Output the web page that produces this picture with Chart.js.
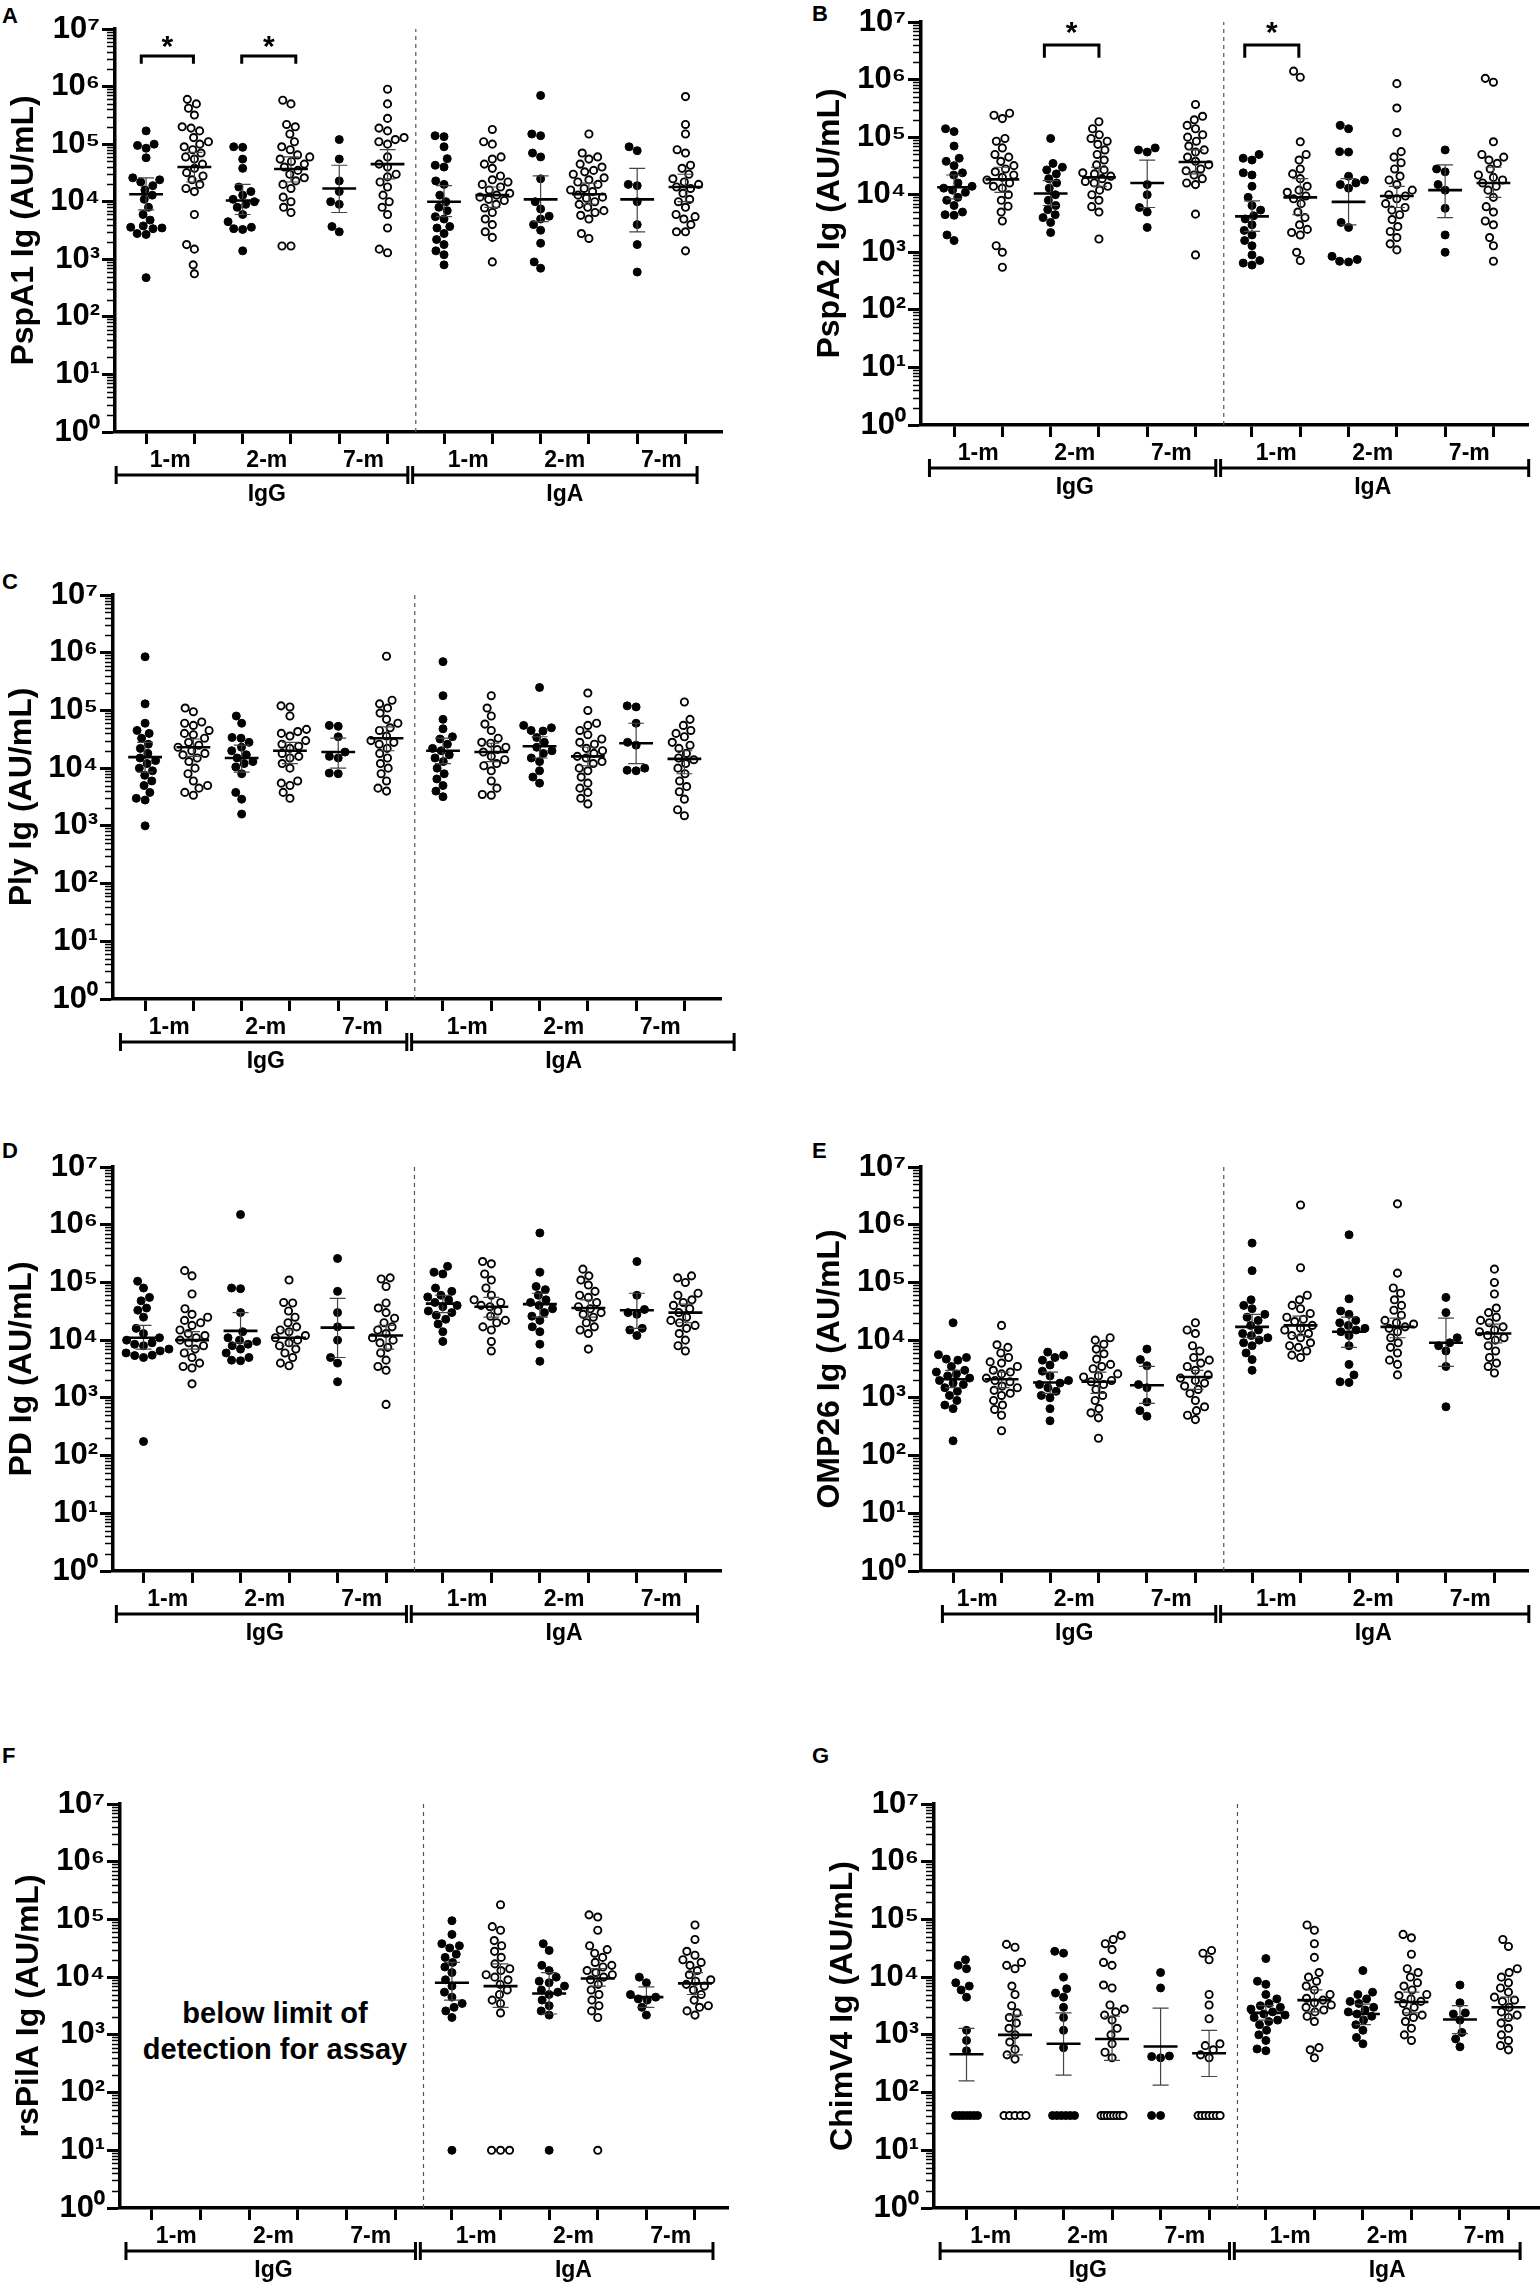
<!DOCTYPE html>
<html>
<head>
<meta charset="utf-8">
<script src="https://cdn.jsdelivr.net/npm/chart.js@4.4.1/dist/chart.umd.min.js"></script>
<style>
  html, body { margin: 0; padding: 0; background: #fff; }
  body { width: 1540px; height: 2284px; position: relative; overflow: hidden;
         font-family: "Liberation Sans", Arial, sans-serif; color: #000; }
  canvas { position: absolute; }
  .letter { position: absolute; font-weight: bold; font-size: 22px; line-height: 22px; }
  .note { position: absolute; width: 320px; text-align: center; font-weight: bold;
          font-size: 29px; line-height: 36px; }
</style>
</head>
<body>
<script>
// ---- data (AU/mL) ----
const months = ['1-m', '2-m', '7-m'];
const isotypes = ['IgG', 'IgA'];
const exponents = [0, 1, 2, 3, 4, 5, 6, 7];

// group order: IgG 1-m (filled), 1-m (open), 2-m, 2-m, 7-m, 7-m, then the same for IgA
const pspA1Values = [
  [1.7e5,1.0e5,9.5e4,8.5e4,5.8e4,2.6e4,2.4e4,2.2e4,1.9e4,1.6e4,1.3e4,1.1e4,8e3,6e3,4.8e3,3.8e3,3.6e3,3.5e3,3.4e3,2.8e3,2.7e3,4.8e2],
  [6e5,5e5,4.2e5,3.2e5,2e5,1.9e5,1.7e5,1.3e5,1.1e5,1e5,9e4,8e4,7e4,6e4,5.5e4,4.5e4,3.8e4,3.2e4,2.8e4,2.4e4,2e4,1.7e4,1.5e4,6e3,1.8e3,1.5e3,8e2,5.6e2],
  [9e4,8.8e4,5.5e4,3.8e4,1.8e4,1.5e4,1.3e4,1.1e4,1e4,9e3,8e3,6e3,4.5e3,3.6e3,3.4e3,3.3e3,1.4e3],
  [5.8e5,5e5,2.2e5,2e5,1.5e5,1.1e5,9e4,8e4,6.5e4,6e4,5.5e4,5e4,4.5e4,4e4,3.5e4,3e4,2.6e4,2.3e4,2e4,1.7e4,1.2e4,1e4,8e3,6.5e3,1.7e3,1.7e3],
  [1.2e5,5.5e4,2.3e4,1.5e4,1e4,9e3,3.7e3,3e3],
  [9e5,5e5,2.8e5,1.9e5,1.7e5,1.3e5,1.2e5,1.1e5,1e5,6e4,4.5e4,4e4,3e4,2.7e4,2.2e4,1.8e4,1.3e4,1e4,8e3,6e3,3.5e3,1.5e3,1.3e3],
  [1.4e5,1.35e5,9e4,5.6e4,4.3e4,4e4,2.3e4,2e4,1.3e4,1e4,8e3,7e3,5.5e3,5e3,3.7e3,3.5e3,2.8e3,2.2e3,1.8e3,1.4e3,1.2e3,8e2],
  [1.8e5,1.1e5,1e5,6e4,5.5e4,4.5e4,3.8e4,2.8e4,2.4e4,2.2e4,2e4,1.8e4,1.6e4,1.4e4,1.3e4,1.2e4,1.1e4,1.05e4,9e3,7.8e3,6.5e3,5e3,4e3,3e3,2.4e3,9e2],
  [7e5,1.5e5,1.4e5,7e4,6e4,2.5e4,1e4,7.5e3,5.6e3,5e3,4e3,3.2e3,1.9e3,9e2,7e2],
  [1.5e5,7e4,6e4,5.5e4,4.5e4,4e4,3.5e4,3.3e4,3e4,2.6e4,2.4e4,2.2e4,2e4,1.7e4,1.6e4,1.5e4,1.3e4,1.2e4,1.15e4,1e4,9e3,8e3,7e3,6.5e3,5.8e3,5e3,2.8e3,2.3e3],
  [9e4,7.7e4,2e4,1.9e4,1e4,4e3,1.8e3,6e2],
  [6.7e5,2.2e5,1.5e5,8e4,7e4,4.3e4,3.8e4,3e4,2.5e4,2.2e4,2e4,1.8e4,1.7e4,1.4e4,1.1e4,1e4,8e3,6e3,5.5e3,5e3,4e3,3e3,3e3,1.4e3]
];
const pspA1Mean = [1.35e4,4e4,1.05e4,3.7e4,1.7e4,4.5e4,1e4,1.3e4,1.1e4,1.35e4,1.1e4,1.8e4];
const pspA1Low  = [7.2e3,2.2e4,6e3,2.2e4,6.5e3,2.5e4,5.5e3,8e3,4.5e3,9e3,3e3,1e4];
const pspA1High = [2.6e4,7.2e4,2e4,6e4,4.3e4,8e4,1.9e4,1.8e4,2.8e4,2.1e4,3.8e4,3e4];

const pspA2Values = [
  [1.4e5,1.25e5,7e4,4.3e4,3.8e4,3.2e4,2.4e4,2.2e4,1.6e4,1.4e4,1.3e4,1.2e4,1.1e4,9e3,8e3,6.5e3,5e3,4.5e3,4.4e3,2e3,1.6e3],
  [2.6e5,2.4e5,2.1e5,9.5e4,8.5e4,6.5e4,5e4,4.5e4,3.8e4,3.2e4,2.8e4,2.5e4,2.2e4,2e4,1.8e4,1.6e4,1.4e4,1.3e4,1e4,8e3,6.3e3,5e3,3.5e3,1.3e3,1e3,5.5e2],
  [9.5e4,3.5e4,3e4,2.7e4,2.3e4,1.9e4,1.6e4,1.3e4,1e4,8e3,6.5e3,5.5e3,4.5e3,4e3,3.3e3,2.2e3],
  [1.85e5,1.4e5,1.1e5,9.5e4,8.5e4,7.5e4,6e4,5e4,4e4,3.3e4,2.7e4,2.4e4,2.3e4,2.1e4,1.9e4,1.7e4,1.6e4,1.4e4,1.2e4,1e4,8e3,6.2e3,5e3,1.7e3],
  [6.5e4,6e4,5.5e4,1.5e4,1e4,6e3,5e3,2.7e3],
  [3.7e5,2.3e5,2e5,1.6e5,1.4e5,1.1e5,1e5,8.5e4,7e4,6e4,5.5e4,4.5e4,3.8e4,3.3e4,2.8e4,2.6e4,2.2e4,1.9e4,1.6e4,1.5e4,4.6e3,9e2],
  [5e4,4.3e4,4e4,2.4e4,2.2e4,1.4e4,9e3,6.5e3,5.4e3,4.3e3,3.8e3,3e3,2.4e3,2e3,1.6e3,1.3e3,9e2,7.2e2,6.5e2,6e2],
  [1.4e6,1.1e6,8.3e4,5e4,4e4,2.8e4,2.3e4,1.9e4,1.4e4,1.2e4,1.1e4,9.5e3,8.5e3,7e3,5e3,4e3,3e3,2.5e3,2.2e3,2e3,1e3,7.2e2],
  [1.6e5,1.4e5,5.6e4,5.5e4,2.1e4,1.8e4,1.6e4,1.5e4,1.3e4,3.3e3,2.7e3,8.5e2,7.5e2,7e2,6.8e2],
  [8.5e5,3.2e5,1.2e5,5.6e4,4.5e4,3.6e4,2.8e4,2.1e4,1.8e4,1.5e4,1.2e4,1e4,9.5e3,8.5e3,7e3,6e3,5.4e3,4.5e3,3.7e3,2.8e3,2.3e3,1.8e3,1.4e3,1.1e3],
  [6e4,2.8e4,2.5e4,1.5e4,1.2e4,5.8e3,2e3,1e3],
  [1.05e6,9e5,8.3e4,5e4,4.5e4,4e4,3.5e4,2.8e4,2.2e4,2e4,1.8e4,1.6e4,1.4e4,1.2e4,9e3,6.2e3,5e3,3.5e3,3e3,1.8e3,1.3e3,7e2]
];
const pspA2Mean = [1.35e4,1.85e4,1.05e4,2e4,1.6e4,3.7e4,4.2e3,9e3,7.5e3,9.5e3,1.2e4,1.6e4];
const pspA2Low  = [8.5e3,1.1e4,6.5e3,1.4e4,6e3,2.3e4,2.3e3,4.5e3,3e3,6e3,4e3,9e3];
const pspA2High = [2.2e4,3e4,1.75e4,3e4,4e4,6e4,7.8e3,1.9e4,1.9e4,1.4e4,3.3e4,3e4];

const plyValues = [
  [8.5e5,1.3e5,6e4,4.5e4,4e4,3.3e4,2.6e4,2.2e4,1.8e4,1.5e4,1.35e4,1.2e4,1e4,9e3,7.5e3,6e3,5e3,3.8e3,3e3,2.8e3,1e3],
  [1.1e5,9.5e4,6.3e4,6e4,5.5e4,4.5e4,4e4,3.8e4,3.3e4,2.8e4,2.5e4,2.3e4,2e4,1.8e4,1.7e4,1.5e4,1.3e4,1e4,8e3,6e3,5e3,4.5e3,3.8e3,3.4e3],
  [8e4,6e4,3.4e4,3.3e4,2.8e4,2.3e4,2e4,1.7e4,1.5e4,1.3e4,1.2e4,1.05e4,8e3,3.8e3,2.9e3,1.6e3],
  [1.2e5,1.15e5,8e4,4.7e4,4.3e4,4e4,3.6e4,3e4,2.6e4,2.4e4,2.2e4,1.8e4,1.6e4,1.5e4,1.2e4,1e4,6e3,5.5e3,5e3,3.8e3,3e3],
  [5.5e4,5.3e4,3.5e4,1.9e4,1.6e4,1.5e4,8e3,8.2e3],
  [8.7e5,1.5e5,1.3e5,1.1e5,9e4,7e4,6e4,5e4,4.5e4,3.6e4,3e4,2.8e4,2.6e4,2.2e4,1.8e4,1.5e4,1.2e4,1e4,8e3,6e3,4.5e3,4e3],
  [7e5,1.8e5,7e4,4.8e4,3.5e4,3.2e4,2.6e4,2.2e4,2e4,1.7e4,1.5e4,1.3e4,1e4,8e3,6.5e3,5e3,4e3,3.2e3],
  [1.8e5,1.1e5,8e4,5.8e4,4.5e4,3.3e4,2.8e4,2.7e4,2.3e4,2.1e4,1.9e4,1.6e4,1.4e4,1.2e4,1.1e4,9e3,6e3,4.5e3,3.5e3,3.4e3],
  [2.5e5,5.5e4,5e4,4.5e4,4.4e4,3.4e4,2.8e4,2.3e4,2e4,1.8e4,1.5e4,1.3e4,9e3,7e3,5.5e3],
  [2e5,1e5,6e4,5.5e4,4.5e4,3.8e4,3.2e4,2.8e4,2.6e4,2.2e4,2e4,1.8e4,1.6e4,1.5e4,1.3e4,1.2e4,1e4,9e3,7e3,5.5e3,4.5e3,3.8e3,3e3,2.4e3],
  [1.2e5,1.15e5,6e4,2.8e4,2.5e4,1e4,9e3,9.2e3],
  [1.4e5,7e4,5.5e4,4.5e4,4e4,3.5e4,2.8e4,2.5e4,2.2e4,1.8e4,1.5e4,1.4e4,1.2e4,1e4,8e3,6e3,4.8e3,3.9e3,2.9e3,1.9e3,1.5e3]
];
const plyMean = [1.55e4,2.3e4,1.5e4,2e4,1.9e4,3.3e4,2e4,1.9e4,2.4e4,1.6e4,2.7e4,1.45e4];
const plyLow  = [8.5e3,1.6e4,8.5e3,1.2e4,1e4,2e4,1.2e4,1.3e4,1.5e4,1.1e4,1.2e4,8e3];
const plyHigh = [2.8e4,3.2e4,2.5e4,2.8e4,3.3e4,5.2e4,3.3e4,2.7e4,3.5e4,2.3e4,6e4,2e4];

const pdValues = [
  [1.05e5,8e4,5.5e4,4.8e4,3.6e4,3.3e4,2.5e4,1.6e4,1.3e4,1.1e4,1e4,9e3,8.5e3,8e3,7e3,6.5e3,6e3,5.5e3,5.4e3,5e3,1.75e2],
  [1.6e5,1.3e5,6.3e4,3.5e4,2.8e4,2.5e4,2.2e4,2e4,1.8e4,1.5e4,1.3e4,1.2e4,1.1e4,1e4,9e3,8e3,7e3,6e3,5e3,4e3,3.5e3,3.3e3,1.75e3],
  [1.5e6,8e4,7.8e4,3e4,1.4e4,1.1e4,1e4,9.5e3,8.5e3,8e3,7e3,6e3,5e3,4.5e3,4.4e3],
  [1.1e5,4.5e4,4.4e4,3.2e4,2.5e4,2e4,1.7e4,1.5e4,1.4e4,1.2e4,1.1e4,1e4,9e3,8e3,7e3,6e3,5e3,4e3,3.6e3],
  [2.6e5,7e4,3e4,1.7e4,1e4,5e3,4e3,1.9e3],
  [1.2e5,1.15e5,8.5e4,4.4e4,3.6e4,3e4,2.4e4,2e4,1.7e4,1.5e4,1.3e4,1.1e4,1e4,9e3,7.5e3,6e3,4.5e3,3.5e3,3e3,7.7e2],
  [1.9e5,1.5e5,1.4e5,8e4,7e4,6e4,5.6e4,5e4,4.5e4,4e4,3.8e4,3.2e4,3e4,2.7e4,2.3e4,1.9e4,1.4e4,9.5e3],
  [2.3e5,2.1e5,1.4e5,1.1e5,8e4,6e4,5e4,4.5e4,4e4,3.8e4,3.2e4,2.6e4,2.2e4,2e4,1.7e4,1.5e4,9.5e3,6.5e3],
  [7.2e5,1.5e5,8.5e4,7.5e4,6e4,5e4,4.5e4,4e4,3.5e4,3e4,2.6e4,2.2e4,1.7e4,1.4e4,8.5e3,4.3e3],
  [1.7e5,1.3e5,1.1e5,9e4,7e4,6e4,5.5e4,4.5e4,3.8e4,3.5e4,3e4,2.8e4,2.5e4,2e4,1.7e4,1.5e4,1.3e4,7e3],
  [2.3e5,6e4,3.4e4,3e4,2.8e4,1.6e4,1.5e4,1.2e4],
  [1.3e5,1.2e5,1e5,6.5e4,6e4,5e4,4.5e4,4e4,3.5e4,3e4,2.5e4,2.2e4,2e4,1.8e4,1.6e4,1.3e4,1e4,8e3,6.5e3]
];
const pdMean = [1.1e4,1e4,1.45e4,1.1e4,1.65e4,1.2e4,4.3e4,3.8e4,4.2e4,3.6e4,3.3e4,3e4];
const pdLow  = [7e3,7e3,9e3,8e3,5e3,7e3,3e4,2.5e4,2.5e4,2.5e4,1.6e4,2e4];
const pdHigh = [1.8e4,1.4e4,3e4,1.5e4,5.3e4,1.8e4,6e4,5.5e4,6.5e4,5e4,6.5e4,4.2e4];

const omp26Values = [
  [2e4,5.6e3,5e3,4.7e3,4.5e3,3.5e3,3e3,2.8e3,2.6e3,2.4e3,2.2e3,2e3,1.8e3,1.7e3,1.5e3,1.3e3,1.1e3,9e2,7.5e2,6.5e2,1.8e2],
  [1.8e4,8.3e3,7.5e3,6e3,5e3,4.2e3,4e3,3.5e3,3e3,2.8e3,2.6e3,2.2e3,2e3,1.9e3,1.6e3,1.5e3,1.35e3,1.2e3,1.1e3,9e2,7.5e2,6.3e2,5e2,2.7e2],
  [6.2e3,5.5e3,5e3,4.5e3,3.7e3,2.9e3,2.4e3,2e3,1.8e3,1.7e3,1.5e3,1.3e3,1.1e3,1e3,6.5e2,4e2],
  [1.1e4,1e4,8.5e3,7e3,5.8e3,4.7e3,3.8e3,3.5e3,3.2e3,2.6e3,2.4e3,2.3e3,2e3,1.9e3,1.7e3,1.4e3,1.1e3,9e2,6.5e2,5.5e2,4.5e2,2e2],
  [7e3,4.6e3,3.6e3,1.7e3,1.5e3,8.5e2,6e2,4.8e2],
  [2e4,1.5e4,1.3e4,8e3,6.5e3,5e3,4.5e3,4e3,3.5e3,3e3,2.5e3,2.2e3,2e3,1.8e3,1.6e3,1.4e3,1.2e3,9e2,7e2,6e2,5e2,4.2e2],
  [4.8e5,1.6e5,5e4,4e4,3.5e4,2.8e4,2.5e4,2.2e4,1.8e4,1.5e4,1.3e4,1.2e4,1.1e4,1e4,9e3,8e3,6e3,4.6e3,3e3],
  [2.2e6,1.8e5,6e4,5e4,4e4,3.5e4,2.9e4,2.5e4,2.3e4,2.1e4,1.8e4,1.6e4,1.5e4,1.3e4,1.2e4,1.1e4,9e3,8e3,7.5e3,6.5e3,5.5e3,5e3],
  [6.7e5,5.2e4,3.2e4,2.8e4,2.2e4,2e4,1.8e4,1.6e4,1.5e4,1.4e4,1.2e4,8e3,3.8e3,2.5e3,1.9e3,1.85e3],
  [2.3e6,1.45e5,8e4,6.5e4,5e4,4e4,3.3e4,2.7e4,2.2e4,2e4,1.9e4,1.7e4,1.6e4,1.4e4,1.1e4,9e3,7.5e3,6e3,4.5e3,3.8e3,2.5e3],
  [5.5e4,3e4,1.1e4,9e3,8e3,6.5e3,3.5e3,7e2],
  [1.7e5,1e5,6.3e4,3.6e4,3e4,2.5e4,2.2e4,2e4,1.7e4,1.5e4,1.4e4,1.2e4,1.1e4,1e4,8e3,6.5e3,5e3,4e3,3.5e3,2.7e3]
];
const omp26Mean = [2.1e3,2.1e3,1.85e3,1.9e3,1.65e3,2.3e3,1.7e4,1.8e4,1.4e4,1.7e4,9e3,1.3e4];
const omp26Low  = [1.5e3,1.5e3,1.2e3,1.2e3,8e2,1.4e3,1.1e4,1.2e4,7.5e3,1.1e4,3.5e3,9e3];
const omp26High = [3e3,2.8e3,2.8e3,2.8e3,3.5e3,3e3,2.8e4,2.6e4,2.5e4,2.4e4,2.4e4,1.9e4];

const rspilAValues = [
  [], [], [], [], [], [],
  [9.5e4,5.5e4,3.8e4,3.5e4,3.2e4,2.5e4,2.2e4,1.8e4,1.5e4,1.2e4,9e3,7e3,5.5e3,4.5e3,3.5e3,3e3,2.6e3,2e3,10],
  [1.8e5,7.5e4,6.5e4,4.3e4,3.5e4,2.8e4,2.2e4,1.7e4,1.4e4,1.3e4,1.1e4,1e4,9e3,7.5e3,6e3,5e3,4e3,3.5e3,2.4e3,10,10,10],
  [3.8e4,2.9e4,1.6e4,1.3e4,1e4,8.5e3,8e3,7e3,6e3,5.5e3,5e3,4e3,3.2e3,2.6e3,2.2e3,10],
  [1.2e5,1.1e5,6.5e4,3.5e4,3e4,2.6e4,2.2e4,1.8e4,1.6e4,1.5e4,1.3e4,1.2e4,1.1e4,1e4,9e3,7.5e3,6e3,5e3,4e3,3.2e3,2.6e3,2e3,10],
  [1e4,8e3,5e3,4.5e3,4.2e3,4e3,3e3,2.2e3],
  [8e4,4.5e4,2.8e4,2.4e4,2e4,1.8e4,1.6e4,1.3e4,1.1e4,9e3,8.5e3,7.5e3,7e3,6e3,5e3,4e3,3.2e3,3e3,2.6e3,2.2e3]
];
const rspilAMean = [null,null,null,null,null,null,8e3,7e3,5.2e3,9.5e3,4.5e3,7.8e3];
const rspilALow  = [null,null,null,null,null,null,4e3,3e3,2.3e3,7e3,3e3,5e3];
const rspilAHigh = [null,null,null,null,null,null,1.8e4,1.7e4,1.2e4,1.4e4,6.8e3,1.2e4];

const chimV4Values = [
  [2e4,1.6e4,1.4e4,8e3,7e3,6e3,4.5e3,1.2e3,8e2,5.3e2,40,40,40,40,40,40,40],
  [3.7e4,3.3e4,1.8e4,1.6e4,1.4e4,7e3,5e3,3.2e3,2.4e3,2e3,1.6e3,1.3e3,1e3,7.5e2,5.6e2,4.5e2,3.8e2,40,40,40,40,40],
  [2.8e4,2.6e4,1e4,6.3e3,5.3e3,4.5e3,3e3,2e3,1.2e3,6e2,40,40,40,40,40,40],
  [5.3e4,4.5e4,3.8e4,3e4,1.8e4,1.6e4,7.3e3,6.5e3,3.3e3,2.8e3,2.5e3,2.2e3,1.8e3,1.3e3,1e3,7e2,5e2,4e2,40,40,40,40,40,40,40,40],
  [1.2e4,6.5e3,4.3e2,4.2e2,4e2,40,40],
  [2.9e4,2.6e4,2e4,5e3,3.3e3,1.9e3,7e2,6.5e2,5.5e2,4.5e2,4e2,40,40,40,40,40,40,40],
  [2.1e4,8.5e3,7.5e3,5e3,4.2e3,3.5e3,3.2e3,3e3,2.8e3,2.5e3,2.3e3,2.2e3,2e3,1.8e3,1.7e3,1.5e3,1.2e3,1e3,8e2,5.7e2,5.3e2],
  [8e4,6.5e4,3.8e4,2.2e4,1.2e4,1e4,8.5e3,7e3,6e3,5e3,4.3e3,4e3,3.6e3,3.3e3,3e3,2.7e3,2.5e3,2.1e3,1.7e3,6e2,5.5e2,4e2],
  [1.3e4,5.5e3,5e3,4.2e3,3.8e3,3.5e3,3e3,2.7e3,2.5e3,2.3e3,2.1e3,1.8e3,1.5e3,1.2e3,9e2,7e2],
  [5.5e4,4.8e4,2.5e4,1.4e4,1.2e4,1e4,8e3,7e3,6e3,5e3,4.8e3,4.2e3,3.8e3,3.5e3,3e3,2.5e3,2.2e3,2e3,1.7e3,1.3e3,1e3,8e2],
  [7.3e3,3.6e3,2.4e3,2.3e3,1.8e3,1.1e3,8.5e2,6.2e2],
  [4.5e4,3.4e4,1.4e4,1.2e4,1e4,8e3,6.5e3,5.5e3,4.5e3,4e3,3.8e3,3e3,2.5e3,2.2e3,2e3,1.6e3,1.3e3,1e3,8e2,6.5e2,5.5e2]
];
const chimV4Mean = [4.6e2,1e3,7e2,8.5e2,6.3e2,4.8e2,2.4e3,4e3,2.3e3,3.7e3,1.85e3,3e3];
const chimV4Low  = [1.6e2,4.5e2,2e2,3.6e2,1.35e2,1.9e2,1.8e3,2.5e3,1.5e3,2.4e3,1.05e3,1.9e3];
const chimV4High = [1.3e3,2.2e3,2.4e3,2.1e3,2.9e3,1.2e3,3.2e3,6e3,3.4e3,5.5e3,3.2e3,4.5e3];

// ---- layout (page pixels) ----
const FONT = "'Liberation Sans', Arial, sans-serif";
const slot = i => i + 1 + (i >= 6 ? 0.17 : 0);   // x position of group i
const DIVIDER = 6.585;
const AXIS_W = 115, PAD_T = 22, PAD_R = 20, AXIS_H = 80;
const DOT = 9;   // dot diameter used for the swarm layout

const panels = [
  { letter: 'A', lx: 2, ly: 5, title: 'PspA1 Ig (AU/mL)', values: pspA1Values, mean: pspA1Mean, low: pspA1Low, high: pspA1High,
    L: 114.5, R: 721.6, T: 28.7, B: 431.8, min: 0.356, max: 12.926, bracket: [0.38, 12.41],
    sig: [[0.9, 1.98], [2.98, 4.1]], sigY: [2.5e6, 3.4e6, 5.6e6] },
  { letter: 'B', lx: 812, ly: 3, title: 'PspA2 Ig (AU/mL)', values: pspA2Values, mean: pspA2Mean, low: pspA2Low, high: pspA2High,
    L: 920.5, R: 1527.6, T: 21.5, B: 424.6, min: 0.315, max: 12.886, bracket: [0.49, 12.9],
    sig: [[2.87, 4.0], [7.02, 8.14]], sigY: [2.4e6, 4e6, 7.6e6] },
  { letter: 'C', lx: 2, ly: 571, title: 'Ply Ig (AU/mL)', values: plyValues, mean: plyMean, low: plyLow, high: plyHigh,
    L: 112.5, R: 720.6, T: 595, B: 999, min: 0.335, max: 12.928, bracket: [0.49, 13.2], sig: [] },
  { letter: 'D', lx: 2, ly: 1140, title: 'PD Ig (AU/mL)', values: pdValues, mean: pdMean, low: pdLow, high: pdHigh,
    L: 112.5, R: 720.6, T: 1167, B: 1571, min: 0.371, max: 12.904, bracket: [0.44, 12.42], sig: [] },
  { letter: 'E', lx: 812, ly: 1140, title: 'OMP26 Ig (AU/mL)', values: omp26Values, mean: omp26Mean, low: omp26Low, high: omp26High,
    L: 920.5, R: 1527.6, T: 1167, B: 1571, min: 0.338, max: 12.863, bracket: [0.78, 12.88], sig: [] },
  { letter: 'F', lx: 2, ly: 1745, title: 'rsPilA Ig (AU/mL)', values: rspilAValues, mean: rspilAMean, low: rspilALow, high: rspilAHigh,
    L: 120, R: 728, T: 1804, B: 2208, min: 0.342, max: 12.849, bracket: [0.465, 12.54], sig: [],
    note: ['below limit of', 'detection for assay'], noteX: 275, noteY: 1995 },
  { letter: 'G', lx: 812, ly: 1745, title: 'ChimV4 Ig (AU/mL)', values: chimV4Values, mean: chimV4Mean, low: chimV4Low, high: chimV4High,
    L: 933.9, R: 1540, T: 1804, B: 2208, min: 0.33, max: 12.82, bracket: [0.456, 12.41], sig: [] }
];

const SUP = ['⁰', '¹', '²', '³', '⁴', '⁵', '⁶', '⁷', '⁸', '⁹'];

// simple beeswarm: returns x offsets (in x units) so dots don't overlap
function swarm(vals, pxX, pxDec, d) {
  const counts = {};
  vals.forEach(v => { counts[v] = (counts[v] || 0) + 1; });
  const rowIdx = {};
  const items = vals.map((v, i) => ({ i, v, y: Math.log10(v) * pxDec })).sort((a, b) => a.y - b.y);
  const placed = [];
  const out = new Array(vals.length).fill(0);
  for (const it of items) {
    let x;
    const n = counts[it.v];
    if (n >= 3) {
      // long rows of identical values are squeezed together, like the original
      rowIdx[it.v] = rowIdx[it.v] === undefined ? 0 : rowIdx[it.v] + 1;
      const half = Math.min((n - 1) * d / 2, 11);
      x = -half + rowIdx[it.v] * (2 * half / (n - 1));
    } else {
      const near = placed.filter(p => Math.abs(p.y - it.y) < d);
      const cands = [0];
      near.forEach(p => {
        const dx = Math.sqrt(d * d - (p.y - it.y) ** 2);
        cands.push(p.x + dx, p.x - dx);
      });
      cands.sort((a, b) => Math.abs(a) - Math.abs(b) || a - b);
      x = cands.find(c => near.every(p => (p.x - c) ** 2 + (p.y - it.y) ** 2 >= d * d - 0.5));
      if (x === undefined) x = 0;
    }
    out[it.i] = x;
    placed.push({ x, y: it.y });
  }
  return out.map(x => x / pxX);
}

// axis decoration: minor ticks, month labels, group brackets, stars
const decor = {
  id: 'decor',
  afterDraw(chart, args, opts) {
    const p = opts.panel;
    if (!p) return;
    const { ctx, chartArea } = chart;
    const xs = chart.scales.x, ys = chart.scales.y;
    ctx.save();
    ctx.strokeStyle = '#000';
    ctx.fillStyle = '#000';

    ctx.lineWidth = 1.5;
    exponents.slice(0, -1).forEach(e => {
      for (let m = 2; m <= 9; m++) {
        const y = Math.round(ys.getPixelForValue(m * Math.pow(10, e))) + 0.5;
        ctx.beginPath();
        ctx.moveTo(chartArea.left - 8, y);
        ctx.lineTo(chartArea.left, y);
        ctx.stroke();
      }
    });

    ctx.textAlign = 'center';
    ctx.textBaseline = 'middle';
    ctx.font = 'bold 23px ' + FONT;
    for (let g = 0; g < 2; g++) {
      for (let k = 0; k < 3; k++) {
        const i = g * 6 + k * 2;
        ctx.fillText(months[k], xs.getPixelForValue((slot(i) + slot(i + 1)) / 2), chartArea.bottom + 29);
      }
    }

    const yb = chartArea.bottom + 43;
    ctx.lineWidth = 3;
    const seg = (a, b) => {
      const x1 = xs.getPixelForValue(a), x2 = xs.getPixelForValue(b);
      ctx.beginPath();
      ctx.moveTo(x1, yb); ctx.lineTo(x2, yb);
      ctx.moveTo(x1, yb - 9); ctx.lineTo(x1, yb + 9);
      ctx.moveTo(x2, yb - 9); ctx.lineTo(x2, yb + 9);
      ctx.stroke();
    };
    seg(p.bracket[0], 6.42);
    seg(6.52, p.bracket[1]);

    ctx.font = 'bold 23px ' + FONT;
    ctx.fillText(isotypes[0], xs.getPixelForValue((slot(0) + slot(5)) / 2), chartArea.bottom + 63);
    ctx.fillText(isotypes[1], xs.getPixelForValue((slot(6) + slot(11)) / 2), chartArea.bottom + 63);

    ctx.font = 'bold 30px ' + FONT;
    ctx.textBaseline = 'alphabetic';
    p.sig.forEach(s => {
      ctx.fillText('*', xs.getPixelForValue((s[0] + s[1]) / 2), ys.getPixelForValue(p.sigY[2]) + 13);
    });
    ctx.restore();
  }
};

panels.forEach(p => {
  const letter = document.createElement('div');
  letter.className = 'letter';
  letter.style.left = p.lx + 'px';
  letter.style.top = p.ly + 'px';
  letter.textContent = p.letter;
  document.body.appendChild(letter);

  if (p.note) {
    const note = document.createElement('div');
    note.className = 'note';
    note.style.left = (p.noteX - 160) + 'px';
    note.style.top = p.noteY + 'px';
    note.innerHTML = p.note.join('<br>');
    document.body.appendChild(note);
  }

  const W = AXIS_W + (p.R - p.L) + PAD_R;
  const H = PAD_T + (p.B - p.T) + AXIS_H;
  const canvas = document.createElement('canvas');
  canvas.width = Math.round(W);
  canvas.height = Math.round(H);
  canvas.style.left = (p.L - AXIS_W) + 'px';
  canvas.style.top = (p.T - PAD_T) + 'px';
  canvas.style.width = Math.round(W) + 'px';
  canvas.style.height = Math.round(H) + 'px';
  document.body.appendChild(canvas);

  const pxX = (p.R - p.L) / (p.max - p.min);
  const pxDec = (p.B - p.T) / 7;
  const datasets = [];

  datasets.push({
    data: [{ x: DIVIDER, y: 1 }, { x: DIVIDER, y: 1e7 }],
    showLine: true, pointRadius: 0, borderColor: '#555', borderWidth: 1.2, borderDash: [4, 4], order: 3
  });

  const meanPts = [], ciPts = [];
  p.values.forEach((vals, i) => {
    const s = slot(i);
    const filled = i % 2 === 0;
    const off = swarm(vals, pxX, pxDec, DOT);
    datasets.push({
      data: vals.map((v, k) => ({ x: s + off[k], y: v })),
      showLine: false,
      pointRadius: filled ? 4 : 3.6,
      pointHoverRadius: filled ? 4 : 3.6,
      pointBackgroundColor: filled ? '#000' : '#fff',
      pointBorderColor: '#000',
      pointBorderWidth: filled ? 1 : 1.9,
      order: 2
    });
    if (p.mean[i] !== null) {
      const c = 0.165;
      meanPts.push({ x: s - 0.35, y: p.mean[i] }, { x: s + 0.35, y: p.mean[i] }, { x: s, y: null });
      ciPts.push({ x: s, y: p.low[i] }, { x: s, y: p.high[i] }, { x: s, y: null },
                 { x: s - c, y: p.low[i] }, { x: s + c, y: p.low[i] }, { x: s, y: null },
                 { x: s - c, y: p.high[i] }, { x: s + c, y: p.high[i] }, { x: s, y: null });
    }
  });
  datasets.push({ data: ciPts, showLine: true, spanGaps: false, pointRadius: 0, borderColor: '#444', borderWidth: 1.2, order: 1 });
  datasets.push({ data: meanPts, showLine: true, spanGaps: false, pointRadius: 0, borderColor: '#000', borderWidth: 2.6, order: 0 });

  if (p.sig.length) {
    const sigPts = [];
    p.sig.forEach(s => {
      sigPts.push({ x: s[0], y: p.sigY[0] }, { x: s[0], y: p.sigY[1] }, { x: s[1], y: p.sigY[1] }, { x: s[1], y: p.sigY[0] }, { x: s[1], y: null });
    });
    datasets.push({ data: sigPts, showLine: true, spanGaps: false, pointRadius: 0, borderColor: '#000', borderWidth: 3, order: 0 });
  }

  new Chart(canvas, {
    type: 'scatter',
    data: { datasets },
    plugins: [decor],
    options: {
      responsive: false,
      animation: false,
      events: [],
      layout: { padding: { top: PAD_T, right: PAD_R, bottom: 0, left: 0 } },
      plugins: { legend: { display: false }, tooltip: { enabled: false }, decor: { panel: p } },
      scales: {
        x: {
          type: 'linear', min: p.min, max: p.max,
          afterBuildTicks: s => { s.ticks = p.values.map((v, i) => ({ value: slot(i) })); },
          afterFit: s => { s.height = AXIS_H; },
          ticks: { display: false },
          grid: { drawOnChartArea: false, drawTicks: true, tickLength: 12, tickWidth: 3, tickColor: '#000' },
          border: { display: true, width: 3.5, color: '#000' }
        },
        y: {
          type: 'logarithmic', min: 1, max: 1e7,
          afterBuildTicks: s => { s.ticks = exponents.map(e => ({ value: Math.pow(10, e), major: true })); },
          afterFit: s => { s.width = AXIS_W; },
          ticks: {
            autoSkip: false, padding: 2, color: '#000',
            font: { family: FONT, size: 31, weight: 'bold' },
            callback: v => '10' + SUP[Math.round(Math.log10(v))]
          },
          grid: { drawOnChartArea: false, drawTicks: true, tickLength: 13, tickWidth: 3, tickColor: '#000' },
          border: { display: true, width: 3.5, color: '#000' },
          title: {
            display: true, text: p.title, color: '#000',
            font: { family: FONT, size: 32, weight: 'bold' },
            padding: { top: 5, bottom: 0 }
          }
        }
      }
    }
  });
});
</script>
</body>
</html>
